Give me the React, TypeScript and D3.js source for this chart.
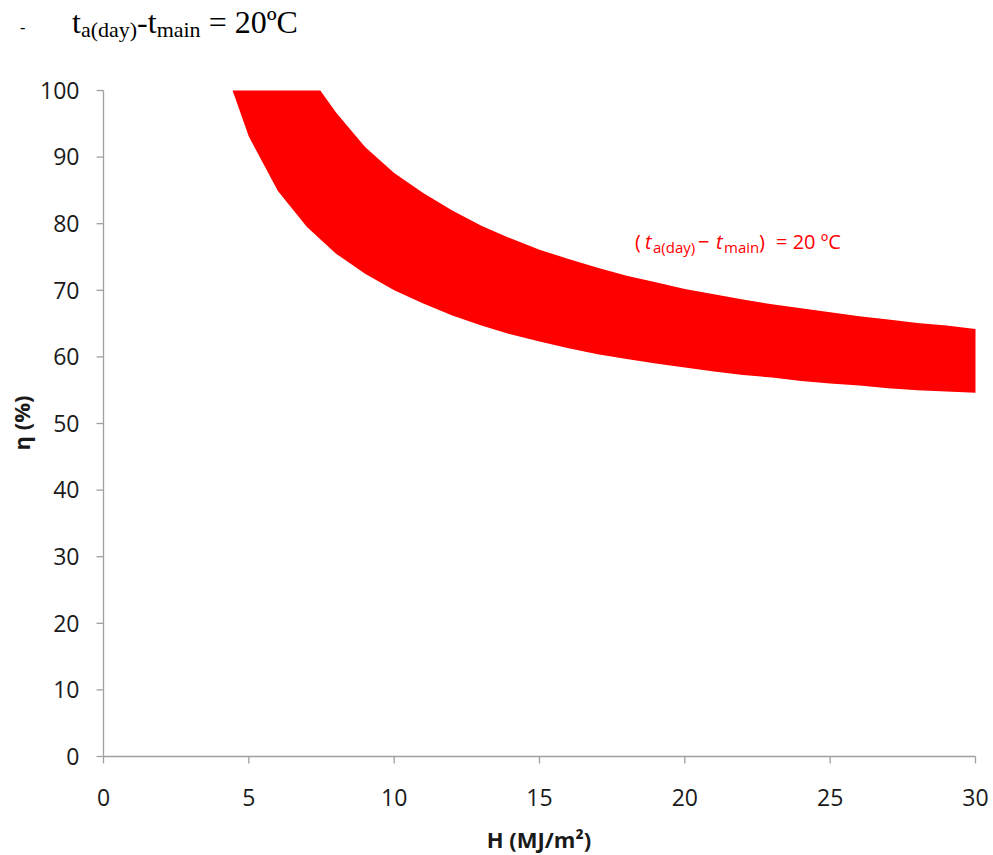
import React from "react";
import * as d3 from "d3";

// Efficiency band for (t_a(day) - t_main) = 20 ºC, as a function of daily irradiation H.
// Upper boundary of the band: [H (MJ/m²), η (%)]
const upperH = [7.46, 8, 9, 10, 11, 12, 13, 14, 15, 16, 17, 18, 19, 20, 21, 22, 23, 24, 25, 26, 27, 28, 29, 30];
const upperEta = [100, 96.7, 91.5, 87.6, 84.6, 82.0, 79.7, 77.8, 76.1, 74.7, 73.4, 72.2, 71.2, 70.2, 69.4, 68.6, 67.9, 67.3, 66.7, 66.1, 65.6, 65.1, 64.7, 64.2];
// Lower boundary of the band
const lowerH = [4.44, 5, 6, 7, 8, 9, 10, 11, 12, 13, 14, 15, 16, 17, 18, 19, 20, 21, 22, 23, 24, 25, 26, 27, 28, 29, 30];
const lowerEta = [100, 93.1, 84.9, 79.5, 75.5, 72.5, 70.0, 68.0, 66.2, 64.7, 63.4, 62.3, 61.3, 60.4, 59.7, 59.0, 58.4, 57.8, 57.3, 56.9, 56.4, 56.0, 55.7, 55.3, 55.0, 54.8, 54.6];

const xTicks = [0, 5, 10, 15, 20, 25, 30];
const yTicks = [0, 10, 20, 30, 40, 50, 60, 70, 80, 90, 100];

const W = 993;
const H = 855;
const plot = { left: 103.5, right: 975.5, top: 90.5, bottom: 756.5 };

const axisColor = "#a0a0a0";
const labelFont = "'Open Sans', 'DejaVu Sans', sans-serif";
const serif = "'Liberation Serif', 'Times New Roman', serif";

export default function App() {
  const x = d3.scaleLinear().domain([0, 30]).range([plot.left, plot.right]);
  const y = d3.scaleLinear().domain([0, 100]).range([plot.bottom, plot.top]);

  const lower = lowerH.map((h, i) => [h, lowerEta[i]] as [number, number]);
  const upper = upperH.map((h, i) => [h, upperEta[i]] as [number, number]);
  const ring = lower.concat(upper.slice().reverse());
  const line = d3
    .line<[number, number]>()
    .x((d) => x(d[0]))
    .y((d) => y(d[1]));
  const bandPath = line(ring) + "Z";

  return (
    <svg
      width={W}
      height={H}
      viewBox={`0 0 ${W} ${H}`}
      style={{ position: "absolute", left: 0, top: 0, background: "#fff" }}
    >
      {/* heading line above the chart */}
      <text x={20} y={33} fontFamily={serif} fontSize={16} fill="#000">
        -
      </text>
      <text x={72} y={33} fontFamily={serif} fontSize={32} fill="#000">
        <tspan>t</tspan>
        <tspan fontSize={22} dy={4}>a(day)</tspan>
        <tspan dy={-4}>-t</tspan>
        <tspan fontSize={22} dy={4}>main</tspan>
        <tspan dy={-4}> = 20ºC</tspan>
      </text>

      {/* band */}
      <path d={bandPath} fill="#ff0000" stroke="none" />

      {/* axes */}
      <line x1={plot.left} x2={plot.left} y1={plot.top} y2={plot.bottom} stroke={axisColor} strokeWidth={1.3} />
      <line x1={plot.left} x2={plot.right} y1={plot.bottom} y2={plot.bottom} stroke={axisColor} strokeWidth={1.3} />

      {yTicks.map((t) => (
        <g key={"y" + t}>
          <line x1={plot.left - 7} x2={plot.left} y1={y(t)} y2={y(t)} stroke={axisColor} strokeWidth={1.3} />
          <text
            x={plot.left - 24}
            y={y(t)}
            dy="0.36em"
            textAnchor="end"
            fontFamily={labelFont}
            fontSize={23}
            fill="#1a1a1a"
          >
            {t}
          </text>
        </g>
      ))}

      {xTicks.map((t) => (
        <g key={"x" + t}>
          <line x1={x(t)} x2={x(t)} y1={plot.bottom} y2={plot.bottom + 7} stroke={axisColor} strokeWidth={1.3} />
          <text x={x(t)} y={806} textAnchor="middle" fontFamily={labelFont} fontSize={23} fill="#1a1a1a">
            {t}
          </text>
        </g>
      ))}

      {/* axis titles */}
      <text x={539} y={848} textAnchor="middle" fontFamily={labelFont} fontSize={22} fontWeight="bold" fill="#1a1a1a">
        H (MJ/m²)
      </text>
      <text
        transform="translate(30,423) rotate(-90)"
        textAnchor="middle"
        fontFamily={labelFont}
        fontSize={22}
        fontWeight="bold"
        fill="#1a1a1a"
      >
        η (%)
      </text>

      {/* series label */}
      <text y={249} fontFamily={labelFont} fontSize={20} fill="#ff0000">
        <tspan x={635}>(</tspan>
        <tspan x={645} fontStyle="italic">t</tspan>
        <tspan x={653} fontSize={15} dy={4}>a(day)</tspan>
        <tspan x={698} dy={-4}>−</tspan>
        <tspan x={716} fontStyle="italic">t</tspan>
        <tspan x={724} fontSize={15} dy={4}>main</tspan>
        <tspan x={759} dy={-4}>)</tspan>
        <tspan x={776}>= 20 ºC</tspan>
      </text>
    </svg>
  );
}
